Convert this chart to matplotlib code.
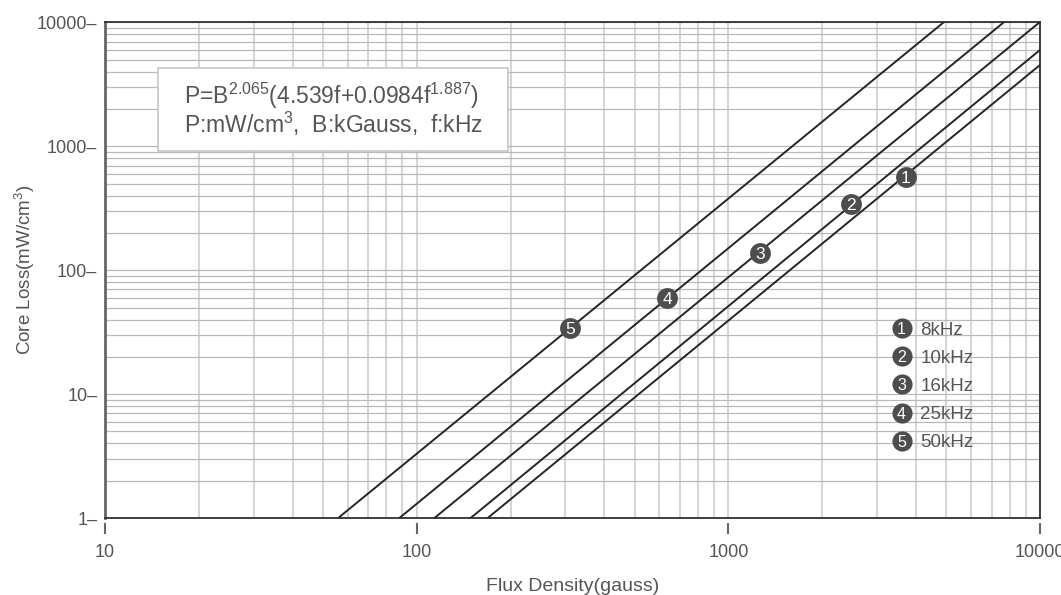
import numpy as np
import matplotlib
matplotlib.use("Agg")
import matplotlib.pyplot as plt
from matplotlib.ticker import LogLocator, NullFormatter
from matplotlib.patches import Rectangle

plt.rcParams['font.family'] = ['Liberation Sans', 'DejaVu Sans']
plt.rcParams['mathtext.fontset'] = 'custom'
plt.rcParams['mathtext.rm'] = 'Liberation Sans'
plt.rcParams['mathtext.it'] = 'Liberation Sans'

# data (B in gauss, P in mW/cm3)
freq_labels = ['8kHz', '10kHz', '16kHz', '25kHz', '50kHz']
curve_ids = ['1', '2', '3', '4', '5']
b_start = [169, 149, 114, 88, 56]
p_start = [1, 1, 1, 1, 1]
b_end = [10000, 10000, 9950, 7640, 4900]
p_end = [4540, 6000, 10000, 10000, 10000]
mark_b = [3715, 2472, 1261, 637, 311]
mark_p = [570, 340, 139, 59.6, 34]

x_ticks = [10, 100, 1000, 10000]
y_ticks = [1, 10, 100, 1000, 10000]

txt = '#555555'
line_col = '#2b2323'
circ_col = '#4d4d4d'

fig = plt.figure(figsize=(10.61, 5.95), dpi=100)
ax = fig.add_axes([0.099, 0.1294, 0.8812, 0.8328])
ax.set_xscale('log')
ax.set_yscale('log')
ax.set_xlim(10, 10000)
ax.set_ylim(1, 10000)

ax.xaxis.set_minor_locator(LogLocator(base=10, subs=range(2, 10)))
ax.yaxis.set_minor_locator(LogLocator(base=10, subs=range(2, 10)))
ax.xaxis.set_minor_formatter(NullFormatter())
ax.yaxis.set_minor_formatter(NullFormatter())
ax.grid(True, which='both', axis='x', color='#d6d6d6', lw=1.5, zorder=0)
ax.grid(True, which='both', axis='y', color='#b9b9b9', lw=0.9, zorder=0)
ax.set_axisbelow(True)

ax.set_xticks(x_ticks)
ax.set_xticklabels([str(v) for v in x_ticks])
ax.set_yticks(y_ticks)
ax.set_yticklabels([str(v) + '\u2013' for v in y_ticks])
ax.tick_params(which='both', length=0)
ax.tick_params(axis='x', pad=19, labelsize=13, labelcolor=txt)
ax.tick_params(axis='y', pad=5.5, labelsize=13, labelcolor=txt)

# small tick marks below the x axis, detached from it
for xv in x_ticks:
    ax.plot([xv, xv], [-0.012, -0.030], color='#666666', lw=1.5,
            transform=ax.get_xaxis_transform(), clip_on=False)

for s in ['top', 'right', 'bottom']:
    ax.spines[s].set_color('#2f2f2f')
    ax.spines[s].set_linewidth(1.3)
ax.spines['left'].set_color('#666666')
ax.spines['left'].set_linewidth(2)

ax.set_xlabel('Flux Density(gauss)', fontsize=14, color=txt)
ax.set_ylabel(r'Core Loss(mW/cm$^{\mathregular{3}}$)', fontsize=13.5, color=txt)
ax.xaxis.set_label_coords(0.5, -0.122)
ax.yaxis.set_label_coords(-0.073, 0.5)

# loss lines
for i in range(len(freq_labels)):
    ax.plot([b_start[i], b_end[i]], [p_start[i], p_end[i]], color=line_col,
            lw=1.4, zorder=3)
    ax.plot(mark_b[i], mark_p[i], 'o', ms=15, color=circ_col, mec='none', zorder=4)
    ax.text(mark_b[i], mark_p[i], curve_ids[i], color='white', fontsize=12.5,
            ha='center', va='center_baseline', zorder=5)

# legend
for i in range(len(freq_labels)):
    yy = 0.383 - i * 0.0567
    ax.plot(0.852, yy, 'o', ms=14.5, color=circ_col, mec='none',
            transform=ax.transAxes, zorder=4)
    ax.text(0.852, yy, curve_ids[i], color='white', fontsize=11.5, ha='center',
            va='center_baseline', transform=ax.transAxes, zorder=5)
    ax.text(0.872, yy, freq_labels[i], color=txt, fontsize=13.5, ha='left',
            va='center_baseline', transform=ax.transAxes, zorder=5)

# formula box
fig.patches.append(Rectangle((158 / 1061, 1 - 151 / 595), 350 / 1061, 83 / 595,
                             transform=fig.transFigure, facecolor='white',
                             edgecolor='#c6c6c6', lw=1.2, zorder=2))
fig.text(184 / 1061, 1 - 104 / 595,
         r'P=B$^{\mathregular{2.065}}$(4.539f+0.0984f$^{\mathregular{1.887}}$)',
         fontsize=16.5, color=txt, ha='left', va='baseline', zorder=3)
fig.text(184 / 1061, 1 - 133 / 595,
         r'P:mW/cm$^{\mathregular{3}}$,  B:kGauss,  f:kHz',
         fontsize=16.5, color=txt, ha='left', va='baseline', zorder=3)

fig.savefig('out.png', dpi=100)
